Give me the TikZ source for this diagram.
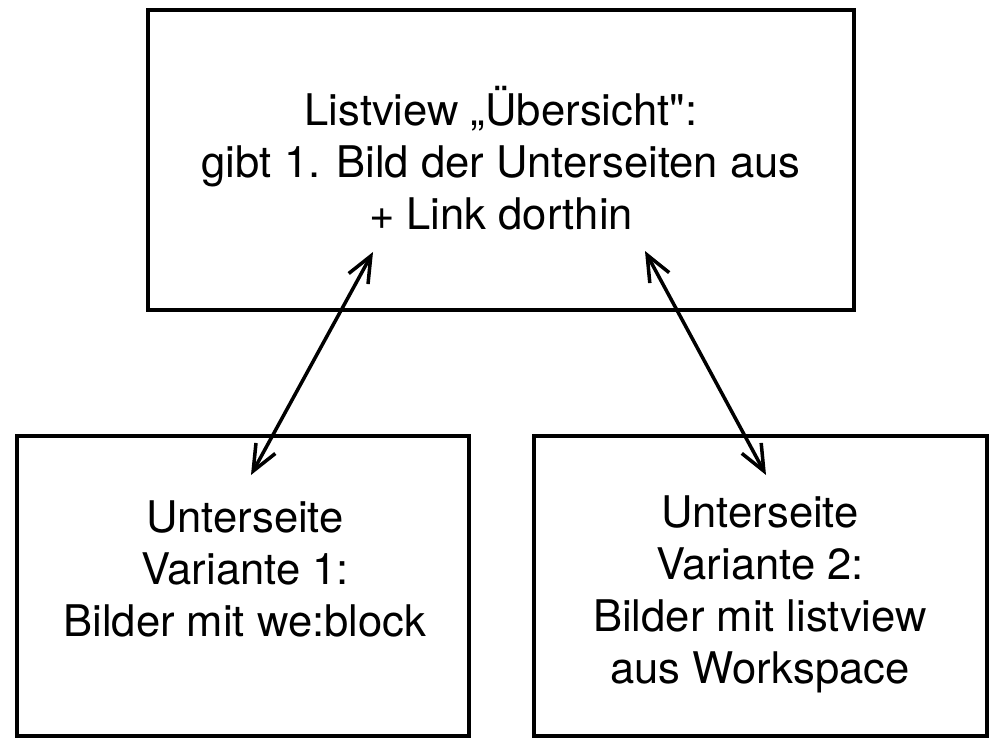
\documentclass[tikz,border=0pt]{standalone}
\usepackage{fontspec}
\setmainfont{TeX Gyre Heros}
\usetikzlibrary{arrows.meta}

\begin{document}
\begin{tikzpicture}[x=0.025cm,y=-0.025cm,
    pagebox/.style={draw,line width=2.5pt,minimum height=7.5cm,inner sep=0pt},
    pagetext/.style={align=center,font=\fontsize{31}{37}\selectfont,inner sep=0pt},
    link/.style={line width=2.5pt,{Straight Barb[length=6.5mm,width=5.5mm]}-{Straight Barb[length=6.5mm,width=5.5mm]}}]
  \useasboundingbox (0,0) rectangle (1000,748);
  % Boxes
  \node[pagebox,minimum width=17.65cm] (uebersicht) at (501,160) {};
  \node[pagebox,minimum width=11.3cm] (variante1) at (243,586) {};
  \node[pagebox,minimum width=11.325cm] (variante2) at (760.5,586) {};
  % Texts
  \node[pagetext] (uebersichttext) at (501,158) {Listview „Übersicht\textquotedbl:\\gibt 1. Bild der Unterseiten aus\\+ Link dorthin};
  \node[pagetext] (variante1text) at (245,569) {Unterseite\\Variante 1:\\Bilder mit we:block};
  \node[pagetext] (variante2text) at (760,594) {Unterseite\\Variante 2:\\Bilder mit listview\\aus Workspace};
  % Links
  \coordinate (l1) at (373,252);
  \coordinate (l2) at (251,475);
  \coordinate (r1) at (645,251);
  \coordinate (r2) at (766,475);
  \draw[link] (l1) -- (l2);
  \draw[link] (r1) -- (r2);
\end{tikzpicture}
\end{document}
